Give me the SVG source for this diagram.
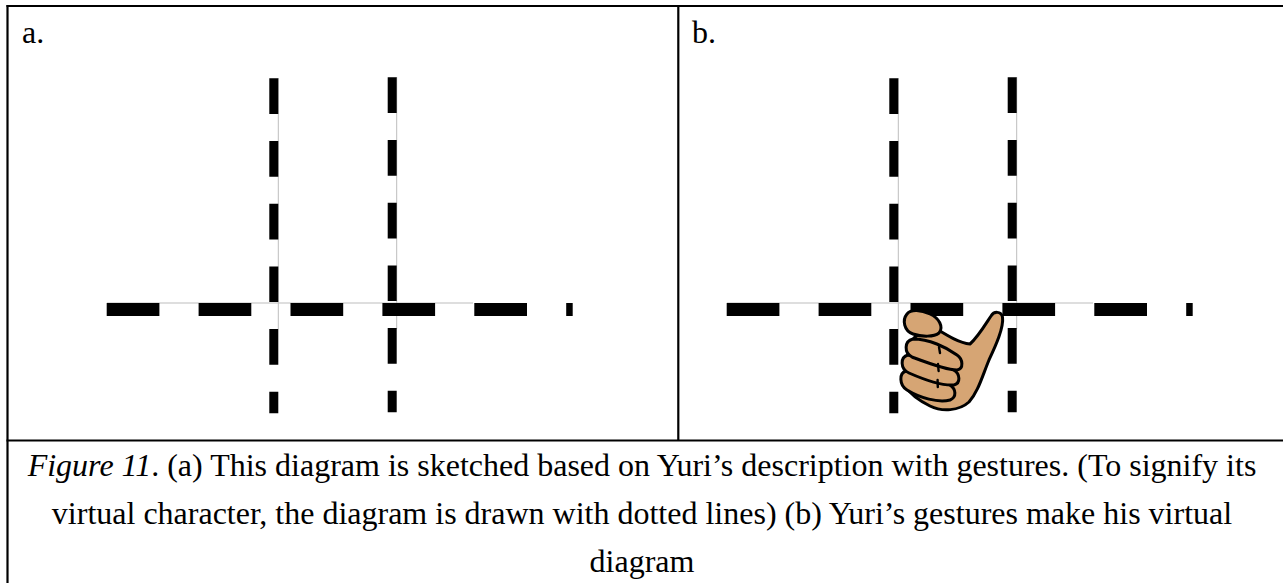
<svg xmlns="http://www.w3.org/2000/svg" xmlns:xlink="http://www.w3.org/1999/xlink" width="1283" height="583" viewBox="0 0 1283 583">
  <style>
    .frame { stroke: #000; stroke-width: 2.2; fill: none; }
    .guide { stroke: #bdbdbd; stroke-width: 1; fill: none; }
    .hdash { stroke: #000; stroke-width: 13; stroke-dasharray: 52.7 39.2; fill: none; }
    .vdash { stroke: #000; stroke-width: 9; stroke-dasharray: 35.7 27; fill: none; }
    .label { font-family: "Liberation Serif", "Times New Roman", serif; font-size: 32px; fill: #000; }
    .skin { fill: #D6A574; stroke: #000; stroke-width: 3; stroke-linejoin: round; }
    .crease { fill: none; stroke: #000; stroke-width: 2.4; stroke-linecap: round; }
  </style>
  <defs>
    <!-- dotted cross sketch: two vertical lines over one horizontal line -->
    <g id="sketch">
      <line class="guide" x1="107" y1="303" x2="473" y2="303"/>
      <line class="guide" x1="278.3" y1="78" x2="278.3" y2="329"/>
      <line class="guide" x1="396.7" y1="77" x2="396.7" y2="329"/>
      <line class="hdash" x1="106.7" y1="309.5" x2="572.7" y2="309.5"/>
      <line class="vdash" x1="273.8" y1="78.3" x2="273.8" y2="413.3"/>
      <line class="vdash" x1="392.2" y1="77.3" x2="392.2" y2="412.3"/>
    </g>
  </defs>

  <rect width="1283" height="583" fill="#fff"/>

  <!-- table frame -->
  <g id="frame">
    <line class="frame" x1="6.5" y1="6" x2="1283" y2="6"/>
    <line class="frame" x1="7.5" y1="5" x2="7.5" y2="583"/>
    <line class="frame" x1="678.3" y1="6" x2="678.3" y2="440.5"/>
    <line class="frame" x1="6.5" y1="440.5" x2="1283" y2="440.5"/>
  </g>

  <!-- panel a -->
  <g id="panel-a">
    <text class="label" x="22" y="43">a.</text>
    <use xlink:href="#sketch"/>
  </g>

  <!-- panel b -->
  <g id="panel-b">
    <text class="label" x="692" y="43">b.</text>
    <use xlink:href="#sketch" transform="translate(620,0)"/>
    <g id="hand">
      <!-- palm and thumb -->
      <path class="skin" d="M 930,325
        C 945,334 958,343 970,344
        C 978,337 985,325 991,316
        C 994,311 1001,311 1002.5,317
        C 1004,328 995,347 989,360
        C 982,377 978,392 969,402
        C 959,411 942,412 930,406
        C 920,401 910,394 905,386
        L 914,338 Z"/>
      <!-- curled fingers, little finger first -->
      <path class="skin" d="M 906,371 C 899,373 899,385 907,390 C 920,398 938,403 950,400 C 957,397 956,389 950,385 C 938,378 920,371 906,371 Z"/>
      <path class="skin" d="M 908,355 C 900,357 900,369 909,373 C 925,380 943,386 954,385 C 961,383 960,374 954,370 C 942,362 923,355 908,355 Z"/>
      <path class="skin" d="M 913,339 C 904,341 904,353 912,357 C 928,363 946,370 957,370 C 964,369 963,359 957,355 C 946,347 929,339 913,339 Z"/>
      <path class="skin" d="M 907,314 C 902,320 904,331 913,334 C 922,337 934,337 939,333 C 944,327 939,318 930,314 C 921,310 911,309 907,314 Z"/>
      <!-- knuckle marks -->
      <path class="crease" d="M 938,364 L 938.6,371"/>
      <path class="crease" d="M 937.6,380 L 937.8,387"/>
      <path class="crease" d="M 939,347 L 940,353"/>
    </g>
  </g>

  <!-- caption -->
  <g id="caption" class="label" text-anchor="middle">
    <text x="642" y="476"><tspan font-style="italic">Figure 11</tspan>. (a) This diagram is sketched based on Yuri’s description with gestures. (To signify its</text>
    <text x="642" y="524">virtual character, the diagram is drawn with dotted lines) (b) Yuri’s gestures make his virtual</text>
    <text x="642" y="572">diagram</text>
  </g>
</svg>
